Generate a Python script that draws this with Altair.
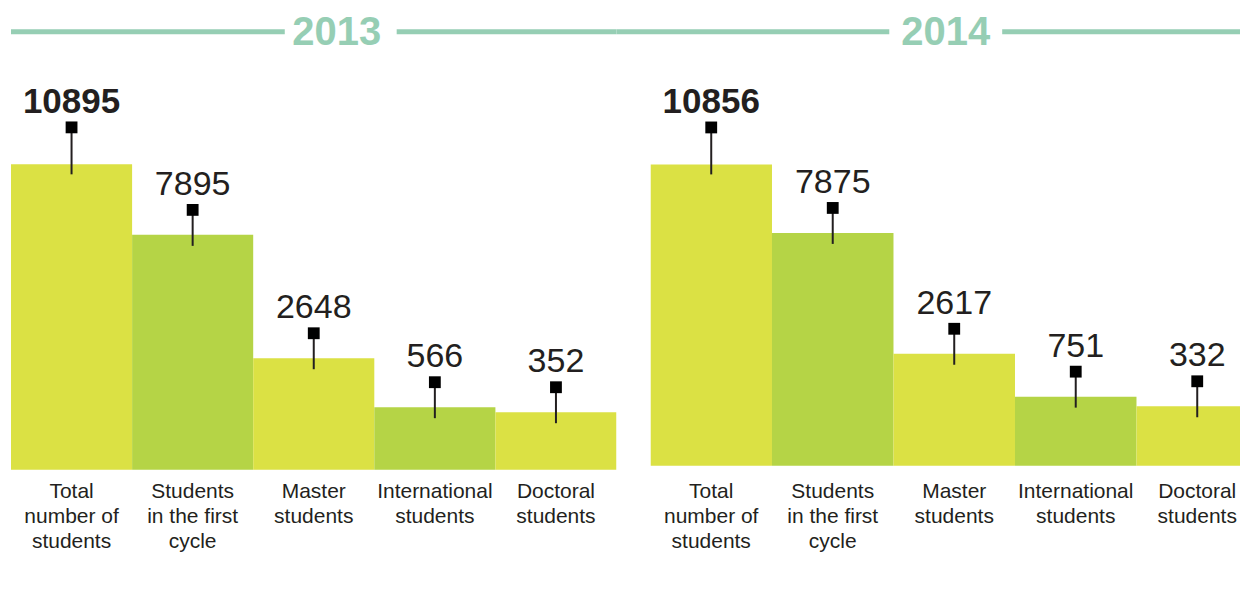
import altair as alt
import pandas as pd

categories = [
    "Total\nnumber of\nstudents",
    "Students\nin the first\ncycle",
    "Master\nstudents",
    "International\nstudents",
    "Doctoral\nstudents",
]
years = ["2013", "2014"]
values_2013 = [10895, 7895, 2648, 566, 352]
values_2014 = [10856, 7875, 2617, 751, 332]

YELLOW = "#dbe144"
GREEN = "#b5d446"
TEAL = "#96ceb4"
INK = "#231f20"
FONT = "Liberation Sans"
H = 560


def panel(year, values, base_y, a, k, width, band_span, segs, year_x):
    df = pd.DataFrame({
        "category": categories,
        "value": values,
        "total": [i == 0 for i in range(len(values))],
    })
    # visual scale of the original infographic: bars start below zero
    dmin = ((base_y - 8) - a - H) / k
    dmax = dmin + H / k
    base_val = -a / k

    x = alt.X("category:N", sort=categories,
              scale=alt.Scale(paddingInner=0, paddingOuter=0, range=[0, band_span]),
              axis=None)
    y = alt.Y("value:Q", scale=alt.Scale(domain=[dmin, dmax], zero=False, nice=False),
              axis=None)
    base = alt.Chart(df).encode(x=x)

    bars = base.mark_bar(clip=True).encode(
        y=y, y2=alt.datum(base_val),
        color=alt.Color("category:N", sort=categories,
                        scale=alt.Scale(domain=categories,
                                        range=[YELLOW, GREEN, YELLOW, GREEN, YELLOW]),
                        legend=None),
    )
    tot = base.transform_filter("datum.total")
    rest = base.transform_filter("!datum.total")

    stem_t = tot.mark_rule(color=INK, strokeWidth=2, yOffset=-37, y2Offset=10).encode(
        y=y, y2=alt.Y2("value:Q"))
    stem_r = rest.mark_rule(color=INK, strokeWidth=2, yOffset=-25, y2Offset=11).encode(
        y=y, y2=alt.Y2("value:Q"))
    sq_t = tot.mark_square(color="#000000", opacity=1, size=140, yOffset=-37).encode(y=y)
    sq_r = rest.mark_square(color="#000000", opacity=1, size=140, yOffset=-25).encode(y=y)
    txt_t = tot.mark_text(font=FONT, fontSize=35, fontWeight="bold", color=INK,
                          baseline="alphabetic", dy=-51).encode(
        y=y, text=alt.Text("value:Q", format="d"))
    txt_r = rest.mark_text(font=FONT, fontSize=34, color=INK,
                           baseline="alphabetic", dy=-40).encode(
        y=y, text=alt.Text("value:Q", format="d"))

    cats = base.mark_text(font=FONT, fontSize=21, color=INK, baseline="alphabetic",
                          lineBreak="\n", lineHeight=25).encode(
        y=alt.value(489), text="category:N")

    ydf = pd.DataFrame({"year": [year]})
    tbase = alt.Chart(ydf)
    lines = [
        tbase.mark_rule(color=TEAL, strokeWidth=5).encode(
            x=alt.value(s0), x2=alt.value(s1), y=alt.value(22.5))
        for s0, s1 in segs
    ]
    ytxt = tbase.mark_text(font=FONT, fontSize=40, fontWeight="bold", color=TEAL,
                           baseline="alphabetic", align="center").encode(
        x=alt.value(year_x), y=alt.value(36), text="year:N")

    return alt.layer(bars, stem_t, stem_r, sq_t, sq_r, txt_t, txt_r, cats, *lines, ytxt).properties(
        width=width, height=H)


p1 = panel(years[0], values_2013, 469, 49.4, 0.02353, 606, 606,
           [(0, 274), (386, 606)], 326)
p2 = panel(years[1], values_2014, 465, 52.0, 0.0230, 590, 608,
           [(-34, 239), (352, 590)], 295.5)

chart = alt.hconcat(p1, p2, spacing=34, bounds="flush").resolve_scale(
    x="independent", y="independent", color="independent"
).properties(
    padding={"left": 0, "top": 0, "right": 0, "bottom": 0},
    background="white",
).configure_view(stroke="transparent")

chart.save("out.html", embed_options={"renderer": "svg", "actions": False})
